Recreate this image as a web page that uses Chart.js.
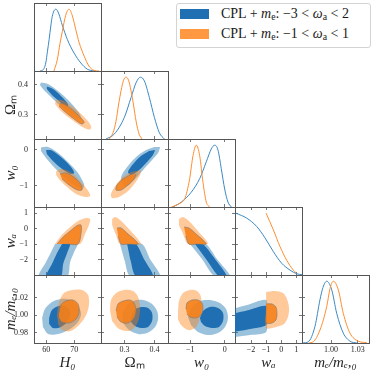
<!DOCTYPE html>
<html>
<head>
<meta charset="utf-8">
<script src="https://cdn.jsdelivr.net/npm/chart.js@4.4.1/dist/chart.umd.min.js"></script>
<style>
  body { margin: 0; background: #fff; }
  #wrap { position: relative; width: 373px; height: 373px; overflow: hidden; }
  #wrap canvas { position: absolute; }
  #legend { position: absolute; left: 176px; top: 3px; width: 195px; height: 45px; box-sizing: border-box;
            border: 1px solid #d4d4d4; border-radius: 3px; background: #fff;
            font-family: 'Liberation Serif', serif; font-size: 14px; color: #1a1a1a; }
  #legend .sw { position: absolute; left: 3px; width: 29px; height: 10px; }
  #legend .lab { position: absolute; left: 44px; white-space: nowrap; line-height: 16px; }
  #legend sub { font-size: 70%; line-height: 0; vertical-align: -0.25em; }
</style>
</head>
<body>
<div id="wrap">
  <div id="legend">
    <span class="sw" style="top:5px;background:#1f6fb2"></span>
    <span class="lab" style="top:2px">CPL + <i>m</i><sub>e</sub>: −3 &lt; <i>ω</i><sub>a</sub> &lt; 2</span>
    <span class="sw" style="top:25px;background:#ff9840"></span>
    <span class="lab" style="top:22px">CPL + <i>m</i><sub>e</sub>: −1 &lt; <i>ω</i><sub>a</sub> &lt; 1</span>
  </div>
</div>
<script>
// --- axes: H0, Omega_m, w0, wa, me/me0 ---
const titles = ['H₀', 'Ωₘ', 'w₀', 'wₐ', 'mₑ/mₑ,₀'];
const titleStyles = ['italic', 'normal', 'italic', 'italic', 'italic'];
const xMin = [55.6, 0.222, -1.648, -3.06, 0.9674];
const xMax = [79.5, 0.445, 0.300, 1.377, 1.0427];
const yMin = [0, 0.2193, -1.592, -2.987, 0.9682];
const yMax = [1, 0.446, 0.297, 1.386, 1.0459];
const xTickVals = [[60, 70], [0.3, 0.4], [-1, 0], [-2, -1, 0, 1], [1.00, 1.03]];
const xTickText = [['60', '70'], ['0.3', '0.4'], ['−1', '0'], ['−2', '−1', '0', '1'], ['1.00', '1.03']];
const yTickVals = [null, [0.3, 0.4], [-1, 0], [-2, -1, 0, 1], [0.98, 1.00, 1.02]];
const yTickText = [null, ['0.3', '0.4'], ['−1', '0'], ['−2', '−1', '0', '1'], ['0.98', '1.00', '1.02']];

// --- 1D marginals [value, relative density] ---
const H0_blue = [[57.7,0],[58.6,0.01],[59.8,0.13],[60.4,0.32],[61.0,0.51],[61.6,0.73],[62.1,0.88],[62.7,0.97],[63.4,1.0],[63.9,0.98],[64.5,0.92],[65.7,0.74],[67.5,0.51],[69.9,0.29],[72.3,0.13],[74.6,0.03],[77.0,0]];
const H0_orange = [[62.7,0],[63.9,0.18],[64.9,0.45],[65.7,0.64],[66.9,0.9],[68.1,1.0],[69.3,0.89],[70.5,0.67],[71.7,0.46],[73.5,0.24],[75.2,0.08],[77.0,0.01],[78.8,0]];
const Om_blue = [[0.2387,0],[0.2663,0.08],[0.2997,0.35],[0.322,0.67],[0.3387,0.91],[0.353,1.0],[0.3663,0.94],[0.383,0.67],[0.3997,0.35],[0.4163,0.1],[0.433,0]];
const Om_orange = [[0.2497,0],[0.262,0.1],[0.272,0.29],[0.2803,0.55],[0.2887,0.78],[0.297,0.95],[0.3053,1.0],[0.3137,0.95],[0.322,0.78],[0.3303,0.55],[0.3387,0.29],[0.3487,0.08],[0.3587,0]];
const w0_blue = [[-1.503,0],[-1.261,0.08],[-0.971,0.24],[-0.726,0.46],[-0.535,0.73],[-0.389,0.94],[-0.291,1.0],[-0.194,0.92],[-0.099,0.62],[0.0,0.29],[0.096,0.08],[0.192,0]];
const w0_orange = [[-1.55,0],[-1.453,0.02],[-1.299,0.06],[-1.163,0.13],[-1.096,0.25],[-1.017,0.46],[-0.921,0.83],[-0.825,1.0],[-0.727,0.83],[-0.631,0.40],[-0.535,0.08],[-0.436,0]];
const wa_blue = [[-3,1.0],[-2.285,0.92],[-1.623,0.785],[-1.073,0.6],[-0.524,0.38],[0.033,0.19],[0.582,0.08],[1.026,0.02],[1.38,0.005]];
const wa_orange = [[-1,1.0],[-0.52,0.73],[-0.08,0.46],[0.36,0.24],[0.8,0.08],[1.0,0.03]];
const me_blue = [[0.968,0],[0.9745,0.02],[0.982,0.27],[0.9876,0.70],[0.991,0.9],[0.9952,1.0],[1.0008,0.86],[1.0064,0.48],[1.0138,0.16],[1.0213,0.03],[1.029,0]];
const me_orange = [[0.975,0],[0.9801,0.02],[0.9876,0.21],[0.9952,0.59],[0.9989,0.88],[1.0026,1.0],[1.0082,0.86],[1.0138,0.48],[1.0213,0.16],[1.0307,0.03],[1.0401,0.005]];

// --- 2D contours [x, y], b = blue, o = orange, 95 / 68 per cent ---
const H0_Om_b95 = [[58.1,0.408],[60.6,0.403],[64.2,0.379],[68.1,0.346],[71.7,0.306],[72.4,0.286],[70.6,0.289],[66.3,0.319],[62.0,0.356],[58.8,0.386],[57.7,0.399]];
const H0_Om_b68 = [[60.2,0.394],[62.4,0.386],[65.2,0.363],[67.7,0.336],[67.4,0.326],[64.9,0.343],[62.0,0.366],[60.2,0.386]];
const H0_Om_o95 = [[63.5,0.351],[66.0,0.348],[69.9,0.323],[73.5,0.293],[76.0,0.263],[75.6,0.251],[73.5,0.256],[69.2,0.283],[65.2,0.313],[63.1,0.336]];
const H0_Om_o68 = [[64.9,0.339],[67.0,0.333],[70.6,0.306],[73.5,0.276],[72.7,0.269],[69.9,0.286],[66.3,0.313],[64.5,0.329]];

const H0_w0_b95 = [[58.1,0.061],[60.6,0.075],[64.2,-0.092],[67.7,-0.342],[71.3,-0.647],[73.5,-0.981],[72.7,-1.092],[69.9,-0.981],[66.3,-0.759],[62.7,-0.481],[59.9,-0.231],[58.1,-0.036]];
const H0_w0_b68 = [[59.9,-0.009],[62.0,-0.022],[65.6,-0.231],[68.8,-0.481],[69.9,-0.647],[68.5,-0.675],[65.2,-0.509],[62.0,-0.286],[60.2,-0.12]];
const H0_w0_o95 = [[63.5,-0.592],[65.6,-0.536],[69.2,-0.647],[72.7,-0.925],[75.2,-1.175],[75.6,-1.286],[73.8,-1.314],[70.6,-1.231],[67.0,-1.009],[64.5,-0.814],[63.5,-0.703]];
const H0_w0_o68 = [[64.9,-0.675],[67.0,-0.647],[70.2,-0.786],[72.4,-0.981],[72.7,-1.12],[71.0,-1.12],[68.1,-0.981],[65.6,-0.814]];

const Om_w0_b95 = [[0.419,0.075],[0.412,-0.092],[0.389,-0.314],[0.362,-0.564],[0.335,-0.814],[0.309,-1.009],[0.295,-0.981],[0.289,-0.759],[0.309,-0.481],[0.339,-0.203],[0.372,-0.009],[0.399,0.075]];
const Om_w0_b68 = [[0.402,-0.009],[0.395,-0.147],[0.372,-0.37],[0.345,-0.592],[0.322,-0.703],[0.312,-0.62],[0.329,-0.397],[0.355,-0.175],[0.382,-0.036]];
const Om_w0_o95 = [[0.355,-0.564],[0.352,-0.703],[0.335,-0.925],[0.312,-1.147],[0.282,-1.314],[0.259,-1.342],[0.255,-1.231],[0.272,-0.981],[0.295,-0.759],[0.322,-0.62]];
const Om_w0_o68 = [[0.339,-0.675],[0.332,-0.814],[0.312,-0.981],[0.289,-1.12],[0.272,-1.12],[0.275,-0.981],[0.295,-0.814],[0.319,-0.703]];

const H0_wa_b95 = [[63.1,-1],[67.0,-1],[71.0,-1],[69.9,-1.51],[68.5,-2.15],[67.3,-3.1],[57.4,-3.1],[59.9,-2.15],[61.7,-1.51]];
const H0_wa_b68 = [[65.6,-1],[67.0,-1],[68.5,-1],[67.4,-1.57],[66.0,-2.28],[65.1,-3.1],[60.0,-3.1],[62.0,-2.28],[63.8,-1.57]];
const H0_wa_o95 = [[63.1,-1],[65.2,-0.48],[68.1,0.04],[71.3,0.49],[74.2,0.68],[75.6,0.61],[75.2,0.23],[73.8,-0.35],[72.0,-1],[67.4,-1]];
const H0_wa_o68 = [[63.8,-1],[66.0,-0.54],[68.5,-0.16],[71.0,0.2],[72.4,0.22],[72.4,-0.29],[71.3,-1],[67.4,-1]];

const Om_wa_b95 = [[0.285,-1],[0.322,-1],[0.359,-1],[0.385,-1.96],[0.418,-3.1],[0.321,-3.1],[0.299,-1.96]];
const Om_wa_b68 = [[0.309,-1],[0.324,-1],[0.339,-1],[0.365,-1.96],[0.395,-3.1],[0.339,-3.1],[0.319,-1.96]];
const Om_wa_o95 = [[0.259,0.61],[0.269,0.74],[0.289,0.49],[0.315,-0.03],[0.339,-0.54],[0.355,-1],[0.322,-1],[0.285,-1],[0.272,-0.42],[0.259,0.23]];
const Om_wa_o68 = [[0.275,0.04],[0.289,0.04],[0.312,-0.35],[0.332,-0.67],[0.345,-1],[0.31,-1],[0.289,-1],[0.279,-0.48]];

const w0_wa_b95 = [[-1.008,-1],[-0.78,-1],[-0.543,-1],[-0.224,-1.96],[0.159,-3.1],[-0.277,-3.1],[-0.66,-1.96]];
const w0_wa_b68 = [[-0.863,-1],[-0.75,-1],[-0.631,-1],[-0.282,-1.96],[0.069,-3.1],[-0.162,-3.1],[-0.543,-1.96]];
const w0_wa_o95 = [[-1.33,0.61],[-1.21,0.74],[-1.01,0.42],[-0.78,-0.16],[-0.57,-0.67],[-0.49,-1],[-0.78,-1],[-1.07,-1],[-1.21,-0.35],[-1.33,0.23]];
const w0_wa_o68 = [[-1.18,0.1],[-1.04,0.04],[-0.83,-0.35],[-0.63,-0.74],[-0.54,-1],[-0.8,-1],[-1.04,-1],[-1.13,-0.48]];

const H0_me_b95 = [[58.5,0.9968],[59.5,1.007],[62.0,1.015],[65.2,1.0185],[68.5,1.0173],[71.3,1.0105],[72.4,1.0013],[71.3,0.9922],[68.5,0.9842],[64.2,0.9785],[60.6,0.9785],[58.8,0.9865]];
const H0_me_b68 = [[61.0,0.9968],[62.0,1.0059],[64.5,1.0105],[67.4,1.0093],[68.5,1.0025],[67.7,0.9933],[65.2,0.9865],[62.4,0.9853],[61.0,0.9899]];
const H0_me_o95 = [[63.8,1.0002],[64.5,1.015],[66.3,1.0253],[69.2,1.0288],[72.7,1.0288],[74.9,1.023],[75.2,1.0116],[74.2,1.0002],[72.0,0.9899],[68.8,0.9819],[65.6,0.983],[64.2,0.9899]];
const H0_me_o68 = [[64.5,1.0025],[65.2,1.0116],[67.0,1.0162],[69.5,1.0173],[71.3,1.0128],[71.7,1.0036],[70.6,0.9956],[68.1,0.991],[65.6,0.9922],[64.5,0.9968]];

const Om_me_b95 = [[0.292,1.0002],[0.3053,1.0105],[0.3287,1.0162],[0.362,1.0173],[0.392,1.0128],[0.4087,1.0048],[0.412,0.9956],[0.402,0.9865],[0.3753,0.9796],[0.3453,0.9785],[0.3153,0.983],[0.2953,0.991]];
const Om_me_b68 = [[0.322,0.9979],[0.332,1.0059],[0.3553,1.0093],[0.3787,1.0082],[0.392,1.0025],[0.392,0.9933],[0.3787,0.9865],[0.3553,0.9853],[0.3353,0.9876],[0.322,0.9922]];
const Om_me_o95 = [[0.252,1.0059],[0.2553,1.0173],[0.272,1.0253],[0.2987,1.0288],[0.3287,1.0276],[0.3453,1.0208],[0.352,1.0093],[0.3487,0.9968],[0.3353,0.9865],[0.3153,0.9819],[0.282,0.9842],[0.2587,0.9933]];
const Om_me_o68 = [[0.272,1.0048],[0.2787,1.0128],[0.2953,1.0162],[0.3187,1.0173],[0.332,1.0139],[0.3387,1.0059],[0.332,0.9968],[0.312,0.991],[0.2887,0.9922],[0.2753,0.9979]];

const w0_me_b95 = [[-1.067,0.9979],[-0.95,1.0093],[-0.718,1.0162],[-0.427,1.0173],[-0.136,1.0139],[0.038,1.007],[0.096,0.9968],[0.009,0.9865],[-0.195,0.9796],[-0.485,0.9773],[-0.776,0.9808],[-0.979,0.9888]];
const w0_me_b68 = [[-0.718,0.9968],[-0.631,1.0048],[-0.427,1.0093],[-0.195,1.0082],[-0.049,1.0025],[-0.049,0.9933],[-0.165,0.9865],[-0.369,0.9853],[-0.572,0.9876],[-0.689,0.9922]];
const w0_me_o95 = [[-1.357,1.0025],[-1.328,1.0162],[-1.212,1.0253],[-1.008,1.0288],[-0.805,1.0276],[-0.689,1.0208],[-0.689,1.0059],[-0.747,0.9933],[-0.863,0.9853],[-1.067,0.983],[-1.27,0.9888],[-1.357,0.9956]];
const w0_me_o68 = [[-1.125,1.007],[-1.096,1.0139],[-0.95,1.0173],[-0.776,1.0173],[-0.66,1.0139],[-0.631,1.007],[-0.689,1.0002],[-0.834,0.9968],[-1.008,0.9979],[-1.096,1.0013]];

const wa_me_b95 = [[-3.13,1.0076],[-2.27,1.0116],[-1.0,1.0173],[-1.0,0.999],[-1.0,0.9808],[-2.07,0.9773],[-3.13,0.975]];
const wa_me_b68 = [[-3.13,1.0019],[-2.27,1.0053],[-1.0,1.0105],[-1.0,1.0],[-1.0,0.9888],[-2.07,0.9842],[-3.13,0.9808]];
const wa_me_o95 = [[-1,1.0265],[-0.41,1.0276],[0.12,1.0253],[0.38,1.0185],[0.52,1.0082],[0.45,0.9979],[0.19,0.9899],[-0.35,0.9865],[-1,0.9853],[-1,1.0059]];
const wa_me_o68 = [[-1,1.0128],[-0.61,1.0128],[-0.35,1.0093],[-0.28,1.0013],[-0.35,0.9945],[-0.61,0.991],[-1,0.991],[-1,1.0025]];

// --- lookup tables built from the arrays above ---
const marginals = [[H0_blue, H0_orange], [Om_blue, Om_orange], [w0_blue, w0_orange], [wa_blue, wa_orange], [me_blue, me_orange]];
const contours = {
  '1,0': [H0_Om_b95, H0_Om_b68, H0_Om_o95, H0_Om_o68],
  '2,0': [H0_w0_b95, H0_w0_b68, H0_w0_o95, H0_w0_o68],
  '2,1': [Om_w0_b95, Om_w0_b68, Om_w0_o95, Om_w0_o68],
  '3,0': [H0_wa_b95, H0_wa_b68, H0_wa_o95, H0_wa_o68],
  '3,1': [Om_wa_b95, Om_wa_b68, Om_wa_o95, Om_wa_o68],
  '3,2': [w0_wa_b95, w0_wa_b68, w0_wa_o95, w0_wa_o68],
  '4,0': [H0_me_b95, H0_me_b68, H0_me_o95, H0_me_o68],
  '4,1': [Om_me_b95, Om_me_b68, Om_me_o95, Om_me_o68],
  '4,2': [w0_me_b95, w0_me_b68, w0_me_o95, w0_me_o68],
  '4,3': [wa_me_b95, wa_me_b68, wa_me_o95, wa_me_o68]
};

// --- styles ---
const frameColor = '#555555';
const textColor = '#262626';
const blueLight = 'rgba(31,119,180,0.45)';
const blueDark = '#1f6fb2';
const orangeLight = 'rgba(255,127,14,0.42)';
const orangeDark = 'rgba(246,128,24,0.88)';
const grayEdge = 'rgba(120,120,120,0.75)';
const blueLine = '#3a88c3';
const orangeLine = '#ff8c2e';

const wrap = document.getElementById('wrap');
const left0 = 34, top0 = 3, cellW = 67, cellH = 68;

const toXY = pts => pts.map(p => ({ x: p[0], y: p[1] }));

function axis(pos, min, max, vals, labels, size, title, titleStyle) {
  const vertical = pos === 'left' || pos === 'right';
  return {
    type: 'linear', position: pos, min: min, max: max, bounds: 'data',
    afterBuildTicks: s => { s.ticks = (vals || []).map(v => ({ value: v })); },
    afterFit: s => {
      if (vertical) s.width = size; else s.height = size;
      // keep the plot area pinned to the panel
      s.paddingTop = 0; s.paddingBottom = 0; s.paddingLeft = 0; s.paddingRight = 0;
    },
    grid: { drawOnChartArea: false, drawTicks: !!vals, tickLength: -3, tickColor: frameColor, tickWidth: 0.8 },
    border: { display: true, color: frameColor, width: 1 },
    ticks: {
      display: !!labels, autoSkip: false, maxRotation: 0,
      padding: vertical ? 9 : 5,
      color: textColor, font: { family: 'Liberation Serif', size: 8 },
      callback: (v, k) => labels ? labels[k] : ''
    },
    title: title ? {
      display: true, text: title, color: textColor,
      font: { family: 'Liberation Serif', size: 15, style: titleStyle },
      padding: vertical ? { top: 2, bottom: 0 } : { top: 0, bottom: 1 }
    } : { display: false }
  };
}

function fillSet(pts, color, edge) {
  return {
    data: toXY(pts), showLine: true, fill: 'shape', backgroundColor: color,
    borderColor: edge || 'transparent', borderWidth: edge ? 0.8 : 0,
    pointRadius: 0, tension: 0.3
  };
}

function curveSet(pts, color) {
  return {
    data: toXY(pts), yAxisID: 'yd', showLine: true, fill: false,
    borderColor: color, borderWidth: 1, pointRadius: 0, cubicInterpolationMode: 'monotone'
  };
}

// --- one chart per panel of the triangle ---
for (let i = 0; i < 5; i++) {
  for (let j = 0; j <= i; j++) {
    const padL = j === 0 ? 34 : 2, padR = 2, padT = 2, padB = i === 4 ? 30 : 2;
    const w = cellW + padL + padR, h = cellH + padT + padB;
    const cv = document.createElement('canvas');
    cv.width = w; cv.height = h;
    cv.style.width = w + 'px'; cv.style.height = h + 'px';
    cv.style.left = (left0 + j * cellW - padL) + 'px';
    cv.style.top = (top0 + i * cellH - padT) + 'px';
    wrap.appendChild(cv);

    const bottomRow = i === 4, leftCol = j === 0;
    const scales = {
      x: axis('bottom', xMin[j], xMax[j], xTickVals[j], bottomRow ? xTickText[j] : null, padB,
              bottomRow ? titles[j] : null, titleStyles[j]),
      x2: axis('top', xMin[j], xMax[j], xTickVals[j], null, padT),
      y: axis('left', yMin[i], yMax[i], yTickVals[i], leftCol ? yTickText[i] : null, padL,
              leftCol && i > 0 ? titles[i] : null, titleStyles[i]),
      y2: axis('right', yMin[i], yMax[i], i === j ? null : yTickVals[i], null, padR)
    };

    let datasets;
    if (i === j) {
      scales.yd = { type: 'linear', display: false, min: 0, max: 1.1 };
      // first dataset is drawn on top
      datasets = [curveSet(marginals[i][1], orangeLine), curveSet(marginals[i][0], blueLine)];
    } else {
      const c = contours[i + ',' + j];
      datasets = [
        fillSet(c[3], orangeDark, grayEdge),
        fillSet(c[2], orangeLight),
        fillSet(c[1], blueDark),
        fillSet(c[0], blueLight)
      ];
    }

    new Chart(cv, {
      type: 'scatter',
      data: { datasets: datasets },
      options: {
        responsive: false, animation: false,
        layout: { padding: 0 },
        plugins: { legend: { display: false }, tooltip: { enabled: false } },
        scales: scales
      }
    });
  }
}
</script>
</body>
</html>
